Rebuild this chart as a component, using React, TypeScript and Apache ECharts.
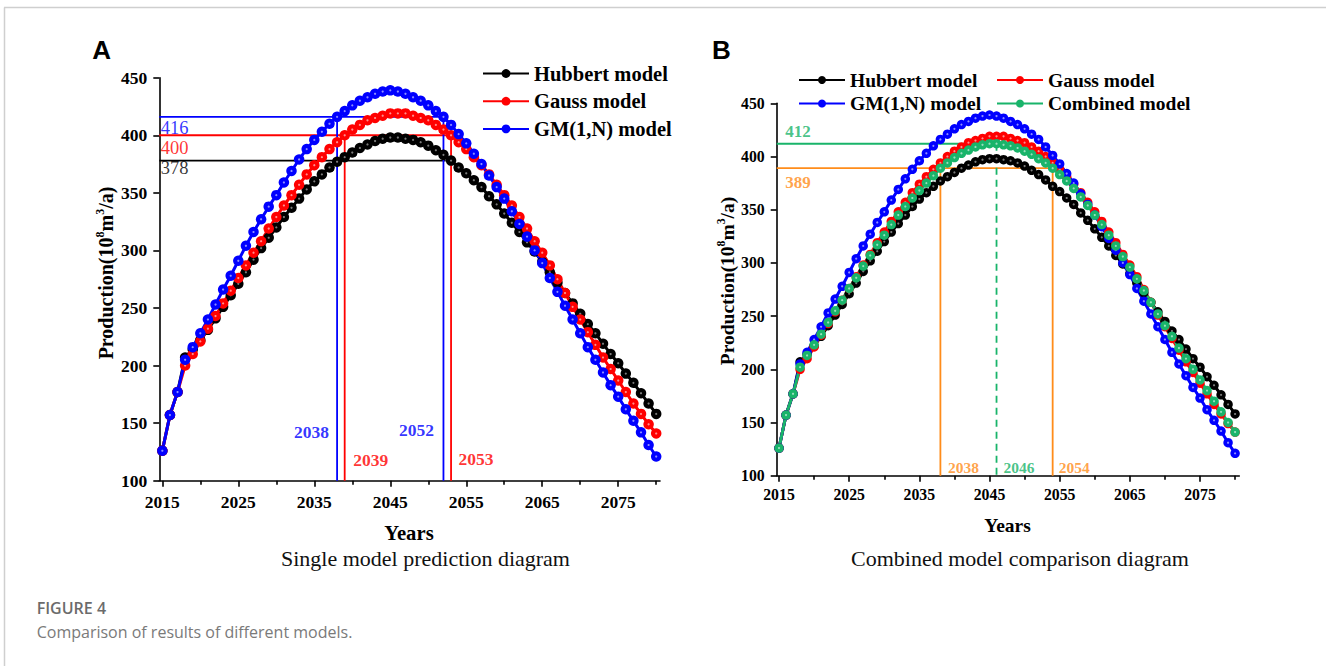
import React, { useEffect, useRef } from "react";
import * as echarts from "echarts";

// ---------- data ----------
const years = Array.from({ length: 66 }, (_, i) => 2015 + i); // 2015..2080

const hubbert = [
  126, 157, 177, 207, 214, 222, 231, 241, 251, 261,
  271, 281, 292, 302, 311, 320, 329, 337, 345, 353,
  360, 366, 372, 377, 381, 385, 389, 392, 395, 397,
  398, 398, 397, 396, 394, 391, 387, 383, 378, 372,
  367, 361, 355, 347, 340, 332, 324, 316, 307, 299,
  290, 281, 272, 263, 254, 245, 236, 228, 219, 210,
  202, 193, 185, 176, 167, 158,
];
const gauss = [
  126, 157, 177, 200, 210, 221, 232, 243, 254, 265,
  276, 287, 298, 308, 319, 329, 339, 348, 357, 366,
  374, 381, 388, 394, 400, 405, 409, 413, 415, 417,
  419, 419, 419, 417, 415, 413, 409, 405, 400, 394,
  388, 381, 374, 366, 357, 348, 339, 329, 319, 308,
  298, 287, 275, 263, 251, 240, 229, 218, 207, 197,
  187, 177, 167, 158, 149, 141,
];
const gm = [
  126, 157, 177, 205, 216, 228, 240, 253, 266, 278,
  291, 304, 316, 327, 338, 348, 359, 369, 379, 388,
  396, 403, 410, 416, 421, 426, 430, 433, 436, 438,
  439, 438, 436, 433, 430, 426, 421, 416, 409, 401,
  393, 384, 375, 365, 355, 345, 334, 323, 312, 300,
  289, 276, 264, 252, 240, 228, 216, 205, 194, 183,
  173, 162, 152, 142, 131, 121,
];
const combined = [
  126, 157, 177, 202, 213, 223, 233, 244, 255, 265,
  276, 286, 297, 307, 317, 326, 336, 345, 353, 361,
  368, 375, 382, 389, 394, 399, 403, 406, 409, 411,
  412, 412, 411, 410, 408, 405, 402, 398, 394, 389,
  383, 377, 370, 362, 354, 345, 336, 326, 316, 306,
  296, 285, 274, 263, 252, 241, 231, 220, 210, 200,
  190, 180, 170, 160, 150, 141,
];

const modelNames = ["Hubbert model", "Gauss model", "GM(1,N) model", "Combined model"];
const xMajorTicks = [2015, 2025, 2035, 2045, 2055, 2065, 2075];
const xMinorTicks = [2020, 2030, 2040, 2050, 2060, 2070, 2080];

// reference levels (panel A)
const gmLevel = 416;
const gmYears = [2038, 2052];
const gaussLevel = 400;
const gaussYears = [2039, 2053];
const hubbertLevel = 378;
const hubbertLevelEnd = 2052.3;
// reference levels (panel B)
const combinedPeak = 412;
const combinedPeakYear = 2046;
const combinedLevel = 389;
const combinedYears = [2038, 2054];

const xMinA = 2014.6, xMaxA = 2080.5;
const xMinB = 2014.67, xMaxB = 2080.6;

// ---------- styles ----------
const SERIF = '"Liberation Serif", "Times New Roman", serif';
const SANS = '"Liberation Sans", Arial, sans-serif';
const CAP = '"Open Sans", "Noto Sans", sans-serif';
const C = {
  hubbert: "#000000",
  gauss: "#ff0000",
  gm: "#0000ff",
  combined: "#19b46a",
  orange: "#ff8c1a",
};

function curve(name: string, values: number[], color: string, xi: number, yi: number, size: number) {
  return {
    type: "line",
    name,
    xAxisIndex: xi,
    yAxisIndex: yi,
    data: years.map((y, i) => [y, values[i]]),
    symbol: "circle",
    symbolSize: size,
    showSymbol: true,
    lineStyle: { color, width: 3 },
    itemStyle: { color, borderWidth: 0, opacity: 1 },
    emphasis: { disabled: true },
    silent: true,
    z: 3,
  };
}

// small highlight dot on each ball (the glossy spot of the markers)
function gloss(values: number[], color: string, xi: number, yi: number) {
  return {
    type: "scatter",
    xAxisIndex: xi,
    yAxisIndex: yi,
    data: years.map((y, i) => [y, values[i]]),
    symbol: "circle",
    symbolSize: 2.2,
    itemStyle: { color: color === "#000000" ? "#9a9a9a" : "rgba(255,255,255,0.7)" },
    emphasis: { disabled: true },
    silent: true,
    z: 3,
  };
}

function seg(points: number[][], color: string, xi: number, yi: number, dashed = false) {
  return {
    type: "line",
    xAxisIndex: xi,
    yAxisIndex: yi,
    data: points,
    symbol: "none",
    lineStyle: { color, width: 1.8, type: dashed ? [7, 5] : "solid" },
    emphasis: { disabled: true },
    silent: true,
    z: 2,
  };
}

function lbl(
  x: number, y: number, text: string, color: string, xi: number, yi: number,
  align: string, dx: number, dy: number, size: number, bold: boolean
) {
  return {
    type: "scatter",
    xAxisIndex: xi,
    yAxisIndex: yi,
    symbolSize: 1,
    itemStyle: { color: "transparent" },
    silent: true,
    z: 6,
    data: [
      {
        value: [x, y],
        label: {
          show: true,
          formatter: text,
          position: [0, 0],
          align,
          verticalAlign: "middle",
          offset: [dx, dy],
          color,
          fontFamily: SERIF,
          fontSize: size,
          fontWeight: bold ? "bold" : "normal",
        },
      },
    ],
  };
}

function xAxes(grid: number, min: number, max: number, fontSize: number, margin: number) {
  return [
    {
      type: "value",
      gridIndex: grid,
      position: "bottom",
      min,
      max,
      axisLine: { show: true, lineStyle: { color: "#000", width: 1.6 } },
      axisTick: { show: true, customValues: xMajorTicks, length: 6, lineStyle: { color: "#000", width: 1.6 } },
      axisLabel: {
        show: true,
        customValues: xMajorTicks,
        formatter: (v: number) => String(v),
        margin,
        color: "#000",
        fontFamily: SERIF,
        fontWeight: "bold",
        fontSize,
      },
      splitLine: { show: false },
    },
    {
      type: "value",
      gridIndex: grid,
      position: "bottom",
      offset: 0,
      min,
      max,
      axisLine: { show: false },
      axisTick: { show: true, customValues: xMinorTicks, length: 4, lineStyle: { color: "#000", width: 1.6 } },
      axisLabel: { show: false },
      splitLine: { show: false },
    },
  ];
}

function yAxis(grid: number, fontSize: number, margin: number) {
  return {
    type: "value",
    gridIndex: grid,
    position: "left",
    min: 100,
    max: 450,
    interval: 50,
    axisLine: { show: true, lineStyle: { color: "#000", width: 1.6 } },
    axisTick: { show: true, length: 6, lineStyle: { color: "#000", width: 1.6 } },
    axisLabel: { margin, color: "#000", fontFamily: SERIF, fontWeight: "bold", fontSize },
    splitLine: { show: false },
  };
}

const prodRich = (size: number) => ({
  a: { fontFamily: SERIF, fontWeight: "bold", fontSize: size, lineHeight: 24, fill: "#000" },
  s: { fontFamily: SERIF, fontWeight: "bold", fontSize: size * 0.6, lineHeight: 12, verticalAlign: "top", fill: "#000" },
});

function buildOption() {
  const legendText = (size: number) => ({ fontFamily: SERIF, fontWeight: "bold", fontSize: size, color: "#000" });
  return {
    animation: false,
    backgroundColor: "#ffffff",
    grid: [
      { left: 159.3, top: 77.7, width: 500.7, height: 403, outerBoundsMode: "none" },
      { left: 776.7, top: 103.3, width: 462.6, height: 372.4, outerBoundsMode: "none" },
    ],
    xAxis: [...xAxes(0, xMinA, xMaxA, 17.5, 12), ...xAxes(1, xMinB, xMaxB, 15.8, 11)],
    yAxis: [yAxis(0, 17.5, 12), yAxis(1, 15.8, 12)],
    legend: [
      {
        orient: "vertical", left: 482, top: 63, padding: 0, itemGap: 6.7,
        itemWidth: 46, itemHeight: 11, selectedMode: false,
        data: [modelNames[0], modelNames[1], modelNames[2]],
        textStyle: legendText(20.5),
      },
      {
        orient: "vertical", left: 798, top: 70, padding: 0, itemGap: 3.5,
        itemWidth: 46, itemHeight: 10, selectedMode: false,
        data: [modelNames[0], modelNames[2]],
        textStyle: legendText(19.5),
      },
      {
        orient: "vertical", left: 996, top: 70, padding: 0, itemGap: 3.5,
        itemWidth: 46, itemHeight: 10, selectedMode: false,
        data: [modelNames[1], modelNames[3]],
        textStyle: legendText(19.5),
      },
    ],
    series: [
      // ---- panel A reference lines ----
      seg([[xMinA, hubbertLevel], [hubbertLevelEnd, hubbertLevel]], C.hubbert, 0, 0),
      seg([[xMinA, gaussLevel], [gaussYears[1], gaussLevel]], C.gauss, 0, 0),
      seg([[gaussYears[0], gaussLevel], [gaussYears[0], 100]], C.gauss, 0, 0),
      seg([[gaussYears[1], gaussLevel], [gaussYears[1], 100]], C.gauss, 0, 0),
      seg([[xMinA, gmLevel], [gmYears[1], gmLevel]], C.gm, 0, 0),
      seg([[gmYears[0], gmLevel], [gmYears[0], 100]], C.gm, 0, 0),
      seg([[gmYears[1], gmLevel], [gmYears[1], 100]], C.gm, 0, 0),
      // ---- panel A curves ----
      curve(modelNames[0], hubbert, C.hubbert, 0, 0, 10.5),
      gloss(hubbert, C.hubbert, 0, 0),
      curve(modelNames[1], gauss, C.gauss, 0, 0, 10.5),
      gloss(gauss, C.gauss, 0, 0),
      curve(modelNames[2], gm, C.gm, 0, 0, 10.5),
      gloss(gm, C.gm, 0, 0),
      // ---- panel A labels ----
      lbl(xMinA, gmLevel, String(gmLevel), C.gm, 0, 0, "left", 2, 11.5, 18.5, false),
      lbl(xMinA, gaussLevel, String(gaussLevel), C.gauss, 0, 0, "left", 2, 13, 18.5, false),
      lbl(xMinA, hubbertLevel, String(hubbertLevel), C.hubbert, 0, 0, "left", 2, 7.5, 18.5, false),
      lbl(gmYears[0], 100, String(gmYears[0]), C.gm, 0, 0, "right", -7.5, -48.5, 17.5, true),
      lbl(gaussYears[0], 100, String(gaussYears[0]), C.gauss, 0, 0, "left", 9, -20, 17.5, true),
      lbl(gmYears[1], 100, String(gmYears[1]), C.gm, 0, 0, "right", -9, -50, 17.5, true),
      lbl(gaussYears[1], 100, String(gaussYears[1]), C.gauss, 0, 0, "left", 8, -21, 17.5, true),

      // ---- panel B reference lines ----
      seg([[xMinB, combinedLevel], [combinedYears[1], combinedLevel]], C.orange, 2, 1),
      seg([[combinedYears[0], combinedLevel], [combinedYears[0], 100]], C.orange, 2, 1),
      seg([[combinedYears[1], combinedLevel], [combinedYears[1], 100]], C.orange, 2, 1),
      seg([[xMinB, combinedPeak], [combinedPeakYear, combinedPeak]], C.combined, 2, 1),
      seg([[combinedPeakYear, combinedPeak], [combinedPeakYear, 100]], C.combined, 2, 1, true),
      // ---- panel B curves ----
      curve(modelNames[0], hubbert, C.hubbert, 2, 1, 9.5),
      gloss(hubbert, C.hubbert, 2, 1),
      curve(modelNames[1], gauss, C.gauss, 2, 1, 9.5),
      gloss(gauss, C.gauss, 2, 1),
      curve(modelNames[2], gm, C.gm, 2, 1, 9.5),
      gloss(gm, C.gm, 2, 1),
      curve(modelNames[3], combined, C.combined, 2, 1, 9.5),
      gloss(combined, C.combined, 2, 1),
      // ---- panel B labels ----
      lbl(xMinB, combinedPeak, String(combinedPeak), C.combined, 2, 1, "left", 9, -12, 17, true),
      lbl(xMinB, combinedLevel, String(combinedLevel), C.orange, 2, 1, "left", 9, 14.5, 17, true),
      lbl(combinedYears[0], 100, String(combinedYears[0]), C.orange, 2, 1, "left", 8, -7.5, 15.5, true),
      lbl(combinedPeakYear, 100, String(combinedPeakYear), C.combined, 2, 1, "left", 7.5, -7.5, 15.5, true),
      lbl(combinedYears[1], 100, String(combinedYears[1]), C.orange, 2, 1, "left", 6.6, -7.5, 15.5, true),
    ],
    graphic: [
      { type: "line", shape: { x1: 4, y1: 7.5, x2: 1326, y2: 7.5 }, style: { stroke: "#cfcfcf", lineWidth: 1.5 }, silent: true },
      { type: "line", shape: { x1: 4.5, y1: 7.5, x2: 4.5, y2: 666 }, style: { stroke: "#cfcfcf", lineWidth: 1.5 }, silent: true },
      { type: "text", x: 101.7, y: 50, style: { text: "A", fontFamily: SANS, fontWeight: "bold", fontSize: 26, fill: "#000", align: "center", verticalAlign: "middle" } },
      { type: "text", x: 721.5, y: 50, style: { text: "B", fontFamily: SANS, fontWeight: "bold", fontSize: 26, fill: "#000", align: "center", verticalAlign: "middle" } },
      {
        type: "text", x: 106, y: 273, rotation: Math.PI / 2,
        style: { text: "{a|Production(10}{s|8}{a|m}{s|3}{a|/a)}", rich: prodRich(20), align: "center", verticalAlign: "middle" },
      },
      {
        type: "text", x: 727, y: 281, rotation: Math.PI / 2,
        style: { text: "{a|Production(10}{s|8}{a|m}{s|3}{a|/a)}", rich: prodRich(19.5), align: "center", verticalAlign: "middle" },
      },
      { type: "text", x: 409, y: 533, style: { text: "Years", fontFamily: SERIF, fontWeight: "bold", fontSize: 20.7, fill: "#000", align: "center", verticalAlign: "middle" } },
      { type: "text", x: 1007.5, y: 525, style: { text: "Years", fontFamily: SERIF, fontWeight: "bold", fontSize: 19.5, fill: "#000", align: "center", verticalAlign: "middle" } },
      { type: "text", x: 425.5, y: 558, style: { text: "Single model prediction diagram", fontFamily: SERIF, fontSize: 22, fill: "#111", align: "center", verticalAlign: "middle" } },
      { type: "text", x: 1020, y: 558, style: { text: "Combined model comparison diagram", fontFamily: SERIF, fontSize: 22, fill: "#111", align: "center", verticalAlign: "middle" } },
      { type: "text", x: 36.7, y: 608, style: { text: "FIGURE 4", fontFamily: CAP, fontWeight: 600, fontSize: 16, fill: "#6b6b6b", align: "left", verticalAlign: "middle" } },
      { type: "text", x: 36.7, y: 631.7, style: { text: "Comparison of results of different models.", fontFamily: CAP, fontSize: 16, fill: "#7a7a7a", align: "left", verticalAlign: "middle" } },
    ],
  };
}

export default function App() {
  const ref = useRef<HTMLDivElement>(null);
  useEffect(() => {
    if (!ref.current) return;
    const chart = echarts.init(ref.current, null, { renderer: "svg" });
    chart.setOption(buildOption() as any);
    return () => chart.dispose();
  }, []);
  return (
    <div
      ref={ref}
      style={{ position: "absolute", left: 0, top: 0, width: 1326, height: 666, background: "#fff" }}
    />
  );
}
